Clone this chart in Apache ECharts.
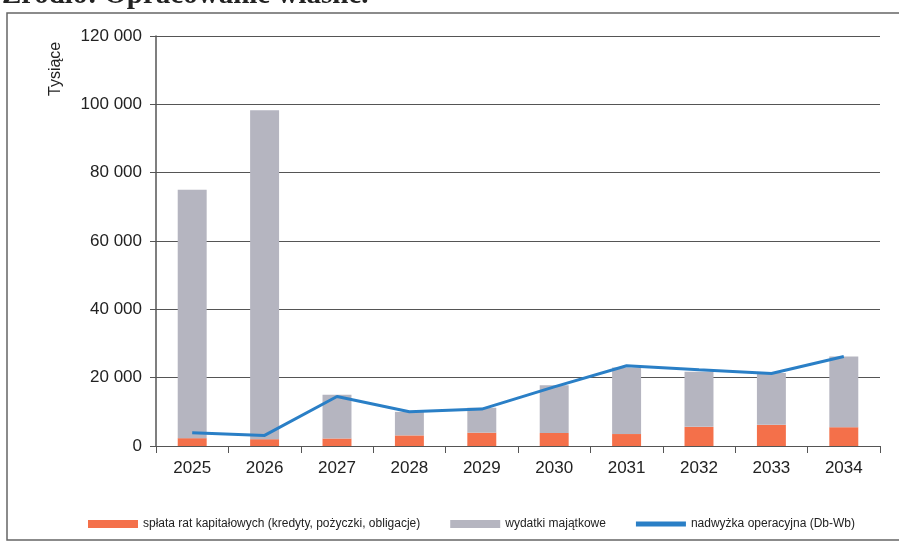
<!DOCTYPE html>
<html>
<head>
<meta charset="utf-8">
<script src="https://cdn.jsdelivr.net/npm/echarts@6/dist/echarts.min.js"></script>
<style>
  html, body { margin: 0; padding: 0; background: #fff; }
  #chart { width: 899px; height: 544px; }
</style>
</head>
<body>
<div id="chart"></div>
<script>
// lata
var years = ['2025', '2026', '2027', '2028', '2029', '2030', '2031', '2032', '2033', '2034'];
// spłata rat kapitałowych
var splata = [2300, 2000, 2200, 3100, 3900, 3800, 3500, 5600, 6200, 5500];
// wydatki majątkowe (część ponad spłatą, słupki skumulowane)
var wydatki = [72700, 96300, 12800, 6900, 7300, 14000, 19500, 16100, 15200, 20700];
// nadwyżka operacyjna
var nadwyzka = [3900, 3100, 14500, 10000, 10800, 17300, 23500, 22300, 21200, 26200];
var yTicks = [0, 20000, 40000, 60000, 80000, 100000, 120000];

var font = "'Liberation Sans Narrow', 'Arial Narrow', 'Liberation Sans', sans-serif";

var myChart = echarts.init(document.getElementById('chart'));
var option = {
    animation: false,
    backgroundColor: '#fff',
    textStyle: { fontFamily: font },
    grid: { left: 156, right: 19, top: 36, bottom: 98 },
    graphic: [
        {
            type: 'text', left: 2, top: -19,
            style: { text: 'Źródło: Opracowanie własne.', fontFamily: "'Liberation Serif', serif",
                fontWeight: 'bold', fontSize: 29, fill: '#222' }
        },
        {
            type: 'rect', shape: { x: 7, y: 13, width: 900, height: 527 },
            style: { fill: 'none', stroke: '#666', lineWidth: 1.5 }, z: -1
        },
        {
            type: 'text', x: 48, y: 96, rotation: Math.PI / 2,
            style: { text: 'Tysiące', fontFamily: font, fontSize: 16, fill: '#222' }
        }
    ],
    legend: {
        top: 513,
        left: 83,
        width: 816,
        itemWidth: 50,
        itemHeight: 8,
        itemGap: 30,
        icon: 'rect',
        textStyle: { fontFamily: font, fontSize: 12, color: '#222' },
        data: [
            { name: 'spłata rat kapitałowych (kredyty, pożyczki, obligacje)' },
            { name: 'wydatki majątkowe' },
            { name: 'nadwyżka operacyjna (Db-Wb)', icon: 'path://M0,0 L10,0 L10,1 L0,1 Z' }
        ]
    },
    xAxis: {
        type: 'category',
        data: years,
        axisLine: { lineStyle: { color: '#555', width: 1 } },
        axisTick: { show: true, length: 7, lineStyle: { color: '#555' } },
        axisLabel: { fontFamily: font, fontSize: 17, color: '#222', margin: 14 }
    },
    yAxis: {
        type: 'value',
        min: 0,
        max: 120000,
        interval: 20000,
        axisLine: { show: true, lineStyle: { color: '#555', width: 1.5 } },
        axisTick: { show: true, length: 6, lineStyle: { color: '#555' } },
        splitLine: { lineStyle: { color: '#555', width: 1 } },
        axisLabel: {
            fontFamily: font, fontSize: 17, color: '#222', margin: 14,
            formatter: function (v) {
                return yTicks.indexOf(v) < 0 ? '' : String(v).replace(/\B(?=(\d{3})+(?!\d))/g, ' ');
            }
        }
    },
    series: [
        {
            name: 'spłata rat kapitałowych (kredyty, pożyczki, obligacje)',
            type: 'bar',
            stack: 'wydatki',
            barWidth: '40%',
            itemStyle: { color: '#f4704a' },
            data: splata
        },
        {
            name: 'wydatki majątkowe',
            type: 'bar',
            stack: 'wydatki',
            barWidth: '40%',
            itemStyle: { color: '#b5b5c0' },
            data: wydatki
        },
        {
            name: 'nadwyżka operacyjna (Db-Wb)',
            type: 'line',
            symbol: 'none',
            lineStyle: { color: '#2a7fc6', width: 3 },
            itemStyle: { color: '#2a7fc6' },
            data: nadwyzka
        }
    ]
};
myChart.setOption(option);
</script>
</body>
</html>
